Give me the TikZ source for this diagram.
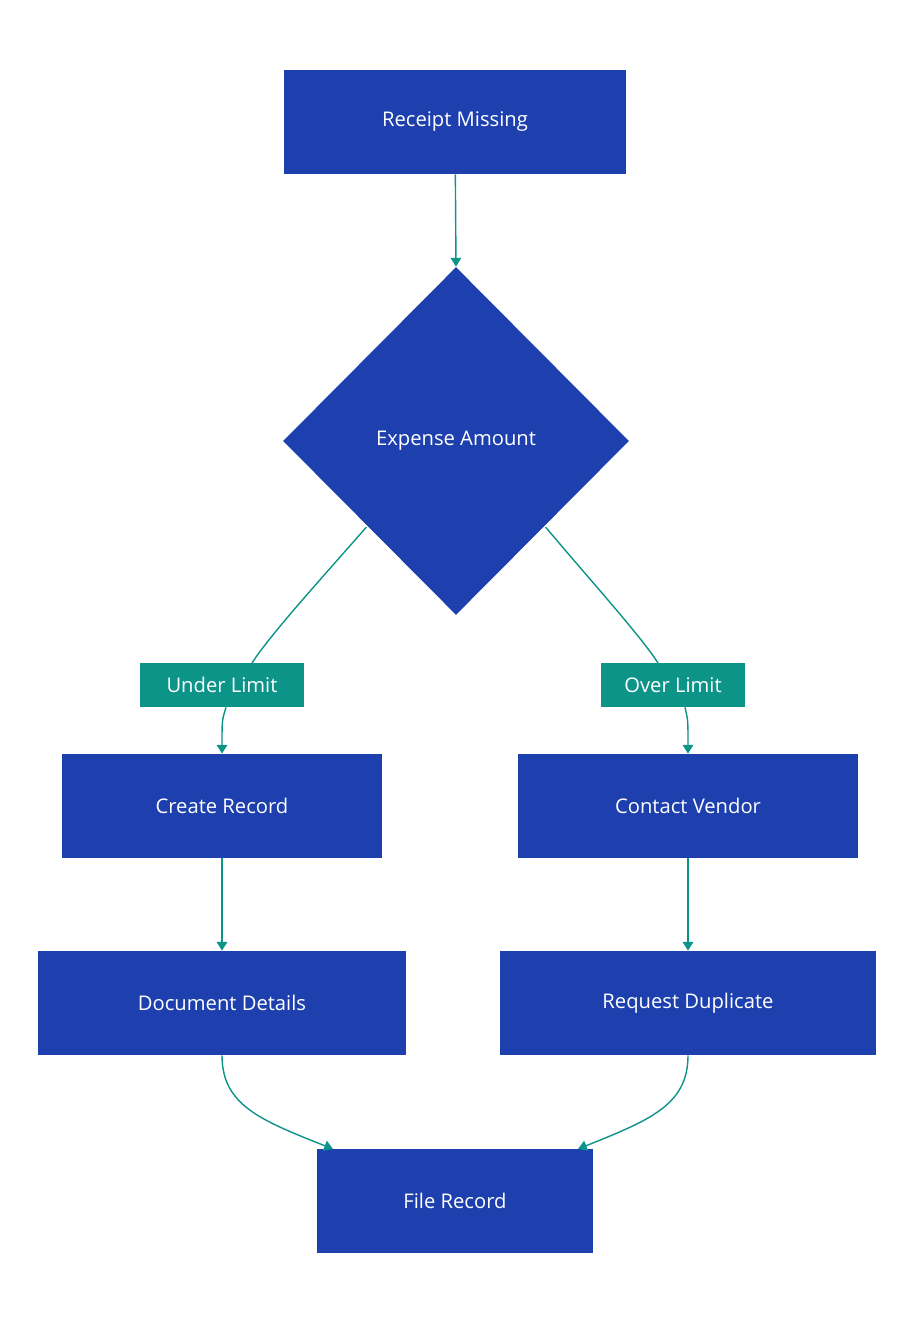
\documentclass[tikz,border=0pt]{standalone}
\usepackage{fontspec}
\setmainfont{Open Sans}
\usetikzlibrary{arrows.meta,shapes.geometric}
\definecolor{boxblue}{HTML}{1E40AF}
\definecolor{linkteal}{HTML}{0D9488}
\tikzset{
  box/.style={rectangle, fill=boxblue, text=white, minimum height=2.08cm, inner sep=0pt, font=\fontsize{11.5}{14}\selectfont},
  decide/.style={diamond, fill=boxblue, text=white, minimum width=6.92cm, minimum height=6.96cm, inner sep=0pt, font=\fontsize{11.5}{14}\selectfont},
  tag/.style={rectangle, fill=linkteal, text=white, minimum height=0.88cm, inner sep=0pt, font=\fontsize{11.5}{14}\selectfont},
  link/.style={draw=linkteal, thick, -{Triangle[length=5pt,width=6pt]}},
  plain/.style={draw=linkteal, thick}
}
\begin{document}
\begin{tikzpicture}[x=0.02cm, y=-0.02cm]
  % Frame
  \useasboundingbox (0,0) rectangle (914,1324);

  % Nodes
  \node[box, minimum width=6.84cm] (missing) at (455,122) {Receipt Missing};
  \node[decide] (amount) at (456,441) {Expense Amount};
  \node[tag, minimum width=3.3cm] (under) at (222,685) {Under Limit};
  \node[tag, minimum width=2.88cm] (over) at (673,685) {Over Limit};
  \node[box, minimum width=6.42cm] (create) at (222,806) {Create Record};
  \node[box, minimum width=6.8cm] (vendor) at (688,806) {Contact Vendor};
  \node[box, minimum width=7.38cm] (details) at (222,1003) {Document Details};
  \node[box, minimum width=7.52cm] (duplicate) at (688,1003) {Request Duplicate};
  \node[box, minimum width=5.52cm] (file) at (455,1201) {File Record};

  % Connectors
  \draw[link] (missing) -- (amount.north);
  \draw[plain] (amount.south west) ++(-3,-1) coordinate (dl) (dl) .. controls (320,580) and (270,635) .. (252,663);
  \draw[plain] (amount.south east) ++(3,-1) coordinate (dr) (dr) .. controls (590,580) and (640,635) .. (658,663);
  \draw[link] (under.south) ++(4,0) .. controls (222,720) .. (create.north);
  \draw[link] (over.south) ++(12,0) .. controls (688,720) .. (vendor.north);
  \draw[link] (create) -- (details);
  \draw[link] (vendor) -- (duplicate);
  \coordinate (fl) at (333,1149);
  \coordinate (fr) at (578,1149);
  \draw[link] (details.south) .. controls (222,1105) and (260,1120) .. (fl);
  \draw[link] (duplicate.south) .. controls (688,1105) and (650,1120) .. (fr);
\end{tikzpicture}
\end{document}
